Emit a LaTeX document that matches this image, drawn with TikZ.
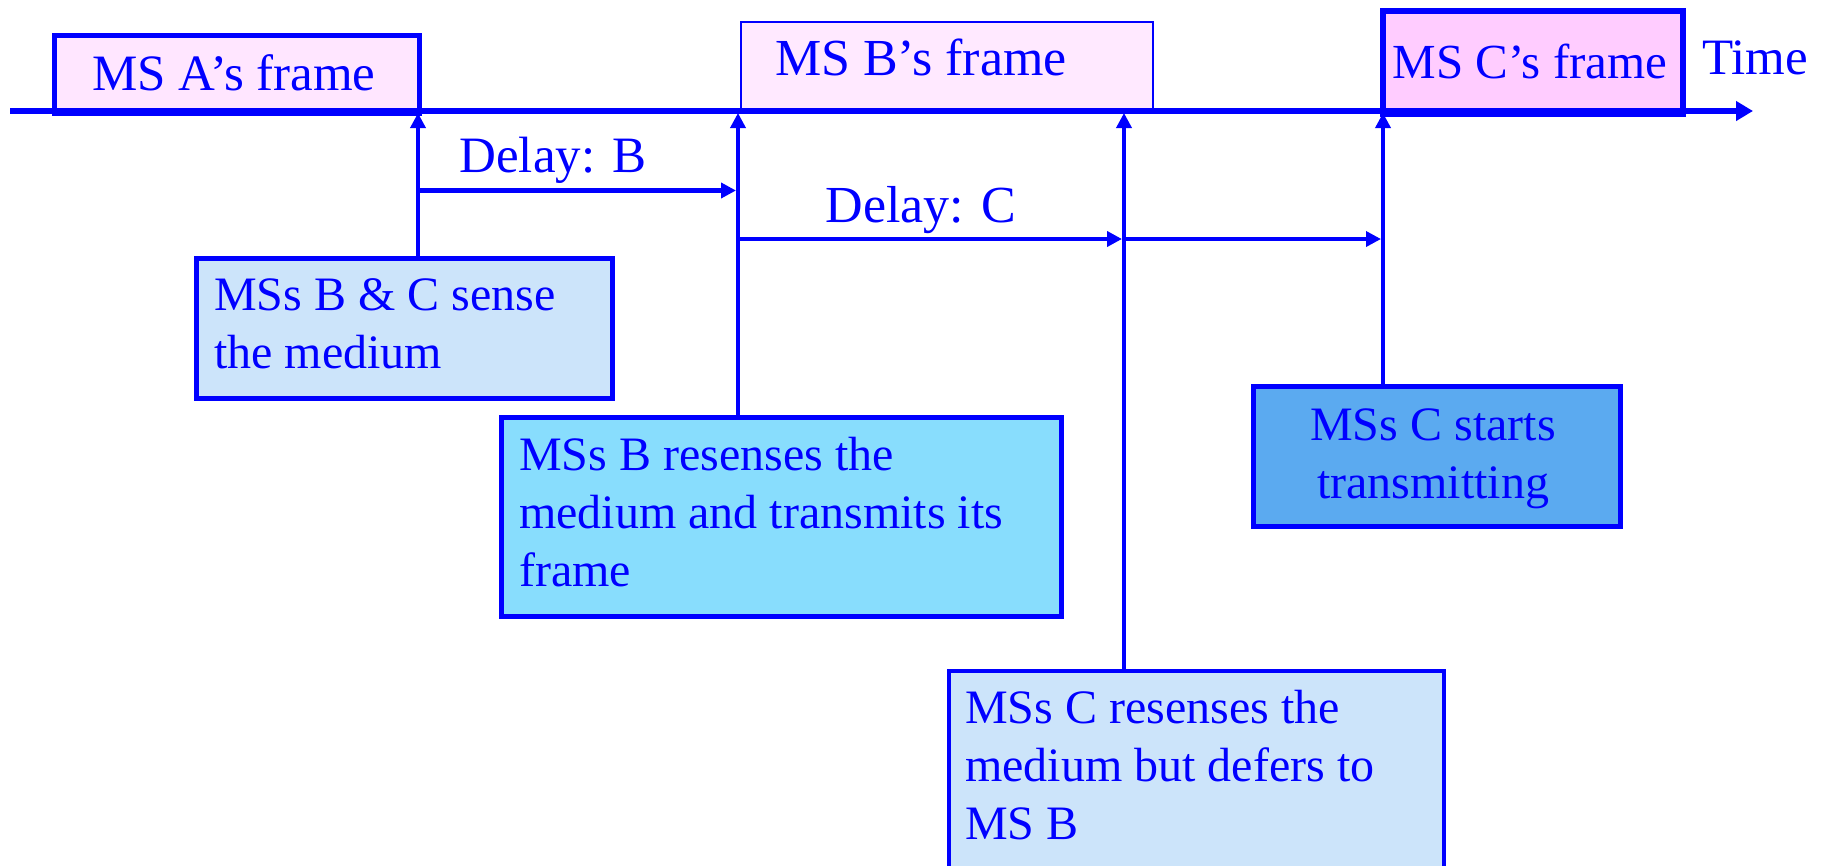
\documentclass[tikz,border=0pt]{standalone}
\usepackage{fontspec}
\setmainfont{Liberation Serif}
\usetikzlibrary{arrows.meta}
\definecolor{lineblue}{HTML}{0000FF}
\definecolor{framepinkA}{HTML}{FFE6FF}
\definecolor{framepinkB}{HTML}{FFE9FF}
\definecolor{framepinkC}{HTML}{FFCCFF}
\definecolor{paleblue}{HTML}{CCE4FA}
\definecolor{skyblue}{HTML}{88DDFD}
\definecolor{midblue}{HTML}{5BAAF0}

\begin{document}
\begin{tikzpicture}[x=1pt,y=-1pt,
  slot/.style={rectangle, draw=lineblue, inner sep=0pt, anchor=north west},
  note/.style={rectangle, draw=lineblue, line width=5pt, inner sep=0pt, anchor=north west},
  word/.style={text=lineblue, inner sep=0pt},
  big/.style={font=\fontsize{51pt}{57pt}\selectfont},
  body/.style={font=\fontsize{48pt}{58pt}\selectfont, align=left},
  timeline/.style={draw=lineblue, line width=6.5pt, -{Triangle[length=17pt,width=19pt]}},
  sensing/.style={draw=lineblue, line width=3.5pt, -{Triangle[length=15pt,width=15pt]}},
  waiting/.style={draw=lineblue, line width=4.5pt, -{Triangle[length=15pt,width=15pt]}},
]
\useasboundingbox (0,0) rectangle (1821,865);
\clip (0,0) rectangle (1821,865);
\fill[white] (0,0) rectangle (1821,865);

% frames on the time axis
\node[slot, fill=framepinkA, line width=5pt, minimum width=365pt, minimum height=78.5pt] (frameA) at (51.5,32.5) {};
\node[slot, fill=framepinkB, line width=2pt, minimum width=412pt, minimum height=90pt] (frameB) at (740,21) {};
\node[slot, fill=framepinkC, line width=6pt, minimum width=299.5pt, minimum height=103pt] (frameC) at (1380,8) {};
\node[word, big, anchor=base] (frameAtext) at (234,90) {MS A’s frame};
\node[word, font=\fontsize{52pt}{57pt}\selectfont, anchor=base] (frameBtext) at (921,75) {MS B’s frame};
\node[word, font=\fontsize{49pt}{57pt}\selectfont, anchor=base] (frameCtext) at (1530,78) {MS C’s frame};
\node[word, big, anchor=base] (timetext) at (1755,74) {Time};

% time axis
\coordinate (axL) at (10,111);
\coordinate (axR) at (1753,111);
\draw[timeline] (axL) -- (axR);

% instants on the axis
\coordinate (tA) at (418,113);
\coordinate (tB) at (738,113);
\coordinate (tC) at (1124,113);
\coordinate (tD) at (1383,113);

% event boxes
\node[note, fill=paleblue, minimum width=416pt, minimum height=140pt] (sense) at (193.5,255.5) {};
\node[note, fill=skyblue, minimum width=560pt, minimum height=199pt] (resenseB) at (498.5,414.5) {};
\node[note, fill=paleblue, line width=4.5pt, minimum width=495pt, minimum height=220pt] (resenseC) at (946.5,668.5) {};
\node[note, fill=midblue, minimum width=367pt, minimum height=140pt] (startC) at (1250.5,383.5) {};

\node[word, body, anchor=north west] (senseText) at (214,278) {MSs B \& C sense\\the medium};
\node[word, body, anchor=north west] (resenseBText) at (519,437) {MSs B resenses the\\medium and transmits its\\frame};
\node[word, body, anchor=north west] (resenseCText) at (965,690) {MSs C resenses the\\medium but defers to\\MS B};
\node[word, body, align=center, anchor=north] (startCText) at (1433,409) {MSs C starts\\transmitting};

% sensing instants
\draw[sensing] (sense.north -| tA) -- (tA);
\draw[sensing] (resenseB.north -| tB) -- (tB);
\draw[sensing] (resenseC.north -| tC) -- (tC);
\draw[sensing] (startC.north -| tD) -- (tD);

% delays
\coordinate (dB0) at (418,190.5);
\coordinate (dB1) at (736,190.5);
\coordinate (dC0) at (738,239);
\coordinate (dC1) at (1122,239);
\coordinate (dC2) at (1124,239);
\coordinate (dC3) at (1381,239);
\draw[waiting] (dB0) -- (dB1);
\draw[waiting] (dC0) -- (dC1);
\draw[waiting, line width=3.5pt] (dC2) -- (dC3);
\node[word, big, anchor=base] (delayBtext) at (553,172) {Delay: B};
\node[word, font=\fontsize{52pt}{57pt}\selectfont, anchor=base] (delayCtext) at (921,222) {Delay: C};
\end{tikzpicture}
\end{document}
